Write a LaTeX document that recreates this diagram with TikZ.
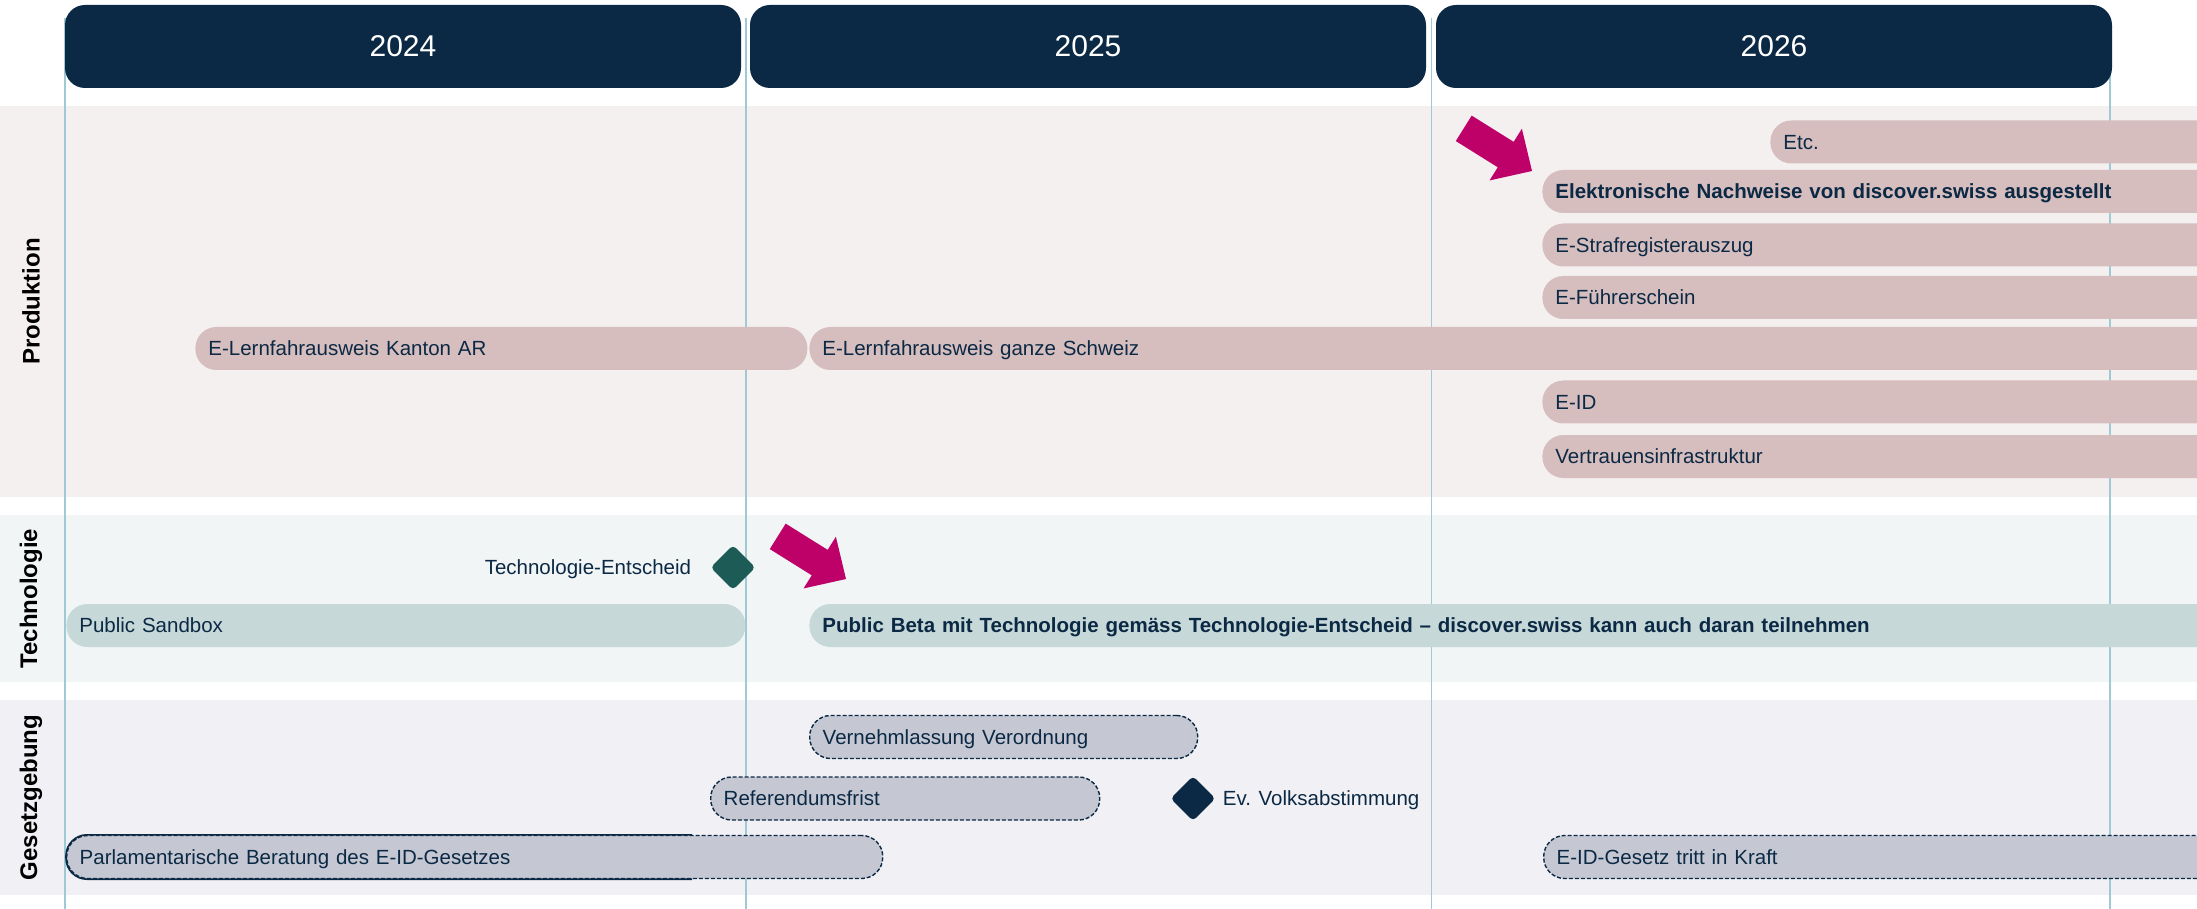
\documentclass[tikz,border=0pt]{standalone}
\usepackage{fontspec}
\setmainfont{Liberation Sans}
\usetikzlibrary{shapes.geometric,positioning}

\definecolor{navy}{HTML}{0B2944}
\definecolor{prodband}{HTML}{F5F0F0}
\definecolor{techband}{HTML}{F1F5F6}
\definecolor{lawband}{HTML}{F1F1F5}
\definecolor{prodbar}{HTML}{D6BDBE}
\definecolor{techbar}{HTML}{C7D8D8}
\definecolor{lawbar}{HTML}{C5C8D3}
\definecolor{techdark}{HTML}{1D5B57}
\definecolor{accent}{HTML}{BE0069}
\definecolor{gridline}{HTML}{9FCAD5}

\begin{document}
\begin{tikzpicture}[x=0.5pt,y=-0.5pt,
  every node/.style={font=\fontsize{10.25}{12}\selectfont, text=navy},
  year/.style={fill=navy, text=white, rounded corners=10pt, minimum width=338pt,
    minimum height=41.5pt, font=\fontsize{15}{18}\selectfont},
  section/.style={rotate=90, text=black, font=\fontsize{12}{14}\selectfont\bfseries},
  bar/.style={anchor=west, rounded corners=10.5pt, minimum height=21.5pt,
    inner xsep=6.5pt, inner ysep=0pt, align=left, text height=7.3pt, text depth=0pt},
  prod/.style={bar, fill=prodbar},
  tech/.style={bar, fill=techbar},
  law/.style={bar, fill=lawbar, draw=navy, line width=0.7pt, dash pattern=on 2pt off 1pt},
  milestone/.style={diamond, minimum width=22.5pt, minimum height=22.5pt,
    inner sep=0pt, rounded corners=2pt},
  note/.style={text height=7.3pt, text depth=0pt}
]
\path[use as bounding box] (0,0) rectangle (2197,909);
\clip (0,0) rectangle (2197,909);

% Baender
\fill[prodband] (0,106) rectangle (2197,497);
\fill[techband] (0,515) rectangle (2197,682);
\fill[lawband] (0,700) rectangle (2197,895);

% Jahreslinien
\foreach \x in {65,746,1431.5,2110}
  \draw[gridline, line width=0.6pt] (\x,18) -- (\x,909);

% Jahre
\node[year] (y2024) at (403,46.5) {2024};
\node[year] (y2025) at (1088,46.5) {2025};
\node[year] (y2026) at (1774,46.5) {2026};

\node[section] (produktion) at (31,301.5) {Produktion};
\node[section] (technologie) at (31,598.5) {Technologie};
\node[section] (gesetzgebung) at (31,797.5) {Gesetzgebung};

% Produktion
\node[prod, text width=222pt] (etc) at (1770,142) {Etc.};
\node[prod, text width=336pt] (nachweise) at (1542,191.5) {\bfseries Elektronische Nachweise von discover.swiss ausgestellt};
\node[prod, text width=336pt] (straf) at (1542,245) {E-Strafregisterauszug};
\node[prod, text width=336pt] (fuehrer) at (1542,297.5) {E-Führerschein};
\node[prod, text width=293pt] (lernar) at (195,348.5) {E-Lernfahrausweis Kanton AR};
\node[prod, text width=702.5pt] (lernch) at (809,348.5) {E-Lernfahrausweis ganze Schweiz};
\node[prod, text width=336pt] (eid) at (1542,402) {E-ID};
\node[prod, text width=336pt] (vertrauen) at (1542,456.5) {Vertrauensinfrastruktur};

% Technologie
\node[milestone, fill=techdark] (entscheid) at (733,567.5) {};
\node[note, left=6pt of entscheid] (entscheidtext) {Technologie-Entscheid};
\node[tech, text width=326.5pt] (sandbox) at (66,625.5) {Public Sandbox};
\node[tech, text width=702.5pt] (beta) at (809,625.5) {\bfseries Public Beta mit Technologie gemäss Technologie-Entscheid – discover.swiss kann auch daran teilnehmen};

% Gesetzgebung
\node[law, text width=181pt] (vernehm) at (809,737) {Vernehmlassung Verordnung};
\node[law, text width=181.5pt] (referendum) at (710,798.5) {Referendumsfrist};
\node[milestone, fill=navy] (volk) at (1193,798.5) {};
\node[note, right=0pt of volk] (volktext) {Ev. Volksabstimmung};
\node[law, text width=395pt] (parl) at (66,857) {Parlamentarische Beratung des E-ID-Gesetzes};
\node[law, text width=335.5pt] (kraft) at (1543,857) {E-ID-Gesetz tritt in Kraft};

\begin{scope} % solider Teil der Beratung
\clip (0,820) rectangle (692,900);
\draw[navy, line width=0.8pt, rounded corners=10.5pt] (parl.north west) rectangle (parl.south east);
\end{scope}

% Pfeile
\def\pfeil{(-80.5,-15) -- (-31,-15) -- (-31,-30.5) -- (0,0) -- (-31,30.5) -- (-31,15) -- (-80.5,15) -- cycle}
\coordinate (pfeilprod) at (1532,171);
\coordinate (pfeiltech) at (846,579);
\fill[accent, shift={(pfeilprod)}, rotate=-32] \pfeil;
\fill[accent, shift={(pfeiltech)}, rotate=-32] \pfeil;
\end{tikzpicture}
\end{document}
